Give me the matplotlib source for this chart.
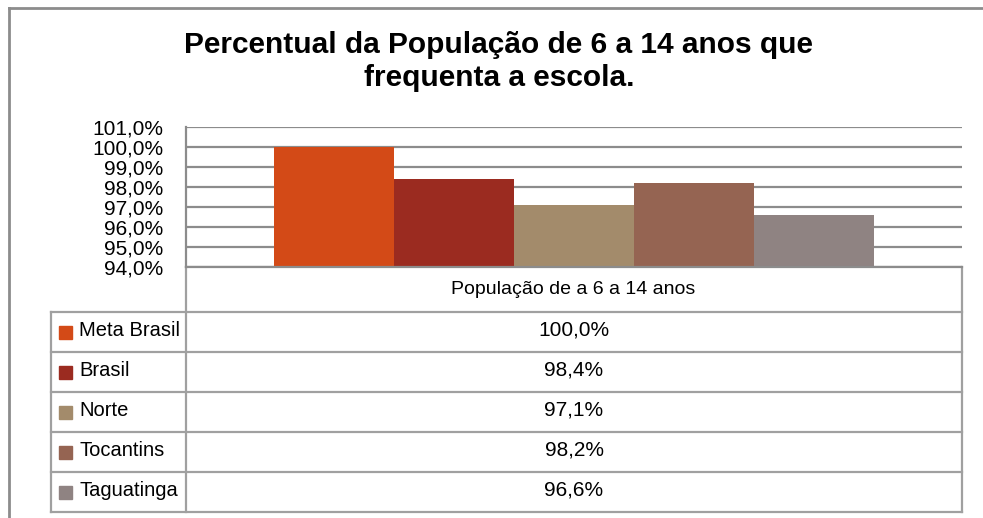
import matplotlib.pyplot as plt
from matplotlib.lines import Line2D
from matplotlib.patches import Rectangle

# data
series = ['Meta Brasil', 'Brasil', 'Norte', 'Tocantins', 'Taguatinga']
values = [100.0, 98.4, 97.1, 98.2, 96.6]
colors = ['#D34A17', '#9B2B20', '#A38B6B', '#956452', '#8F8382']
category = 'População de a 6 a 14 anos'
yticks = [94, 95, 96, 97, 98, 99, 100, 101]

W, H = 983, 518
fig = plt.figure(figsize=(W / 100, H / 100), dpi=100)
plt.rcParams['font.family'] = ['Liberation Sans', 'DejaVu Sans']

def fx(px):
    return px / W

def fy(py):
    return 1 - py / H

grid_col = '#8C8C8C'
line_col = '#A0A0A0'

# plot area in pixel coordinates of the reference
left, right, top, bottom = 186, 962, 127, 267
ax = fig.add_axes([fx(left), fy(bottom), fx(right - left), fy(top) - fy(bottom)])

bw = 600 / (right - left) / len(series)
for i, (v, c) in enumerate(zip(series, colors)):
    ax.bar((i - (len(series) - 1) / 2) * bw, values[i] - 94, bottom=94, width=bw,
           color=c, zorder=3)
ax.set_xlim(-0.5, 0.5)
ax.set_ylim(94, 101)
ax.set_yticks(yticks)
ax.set_yticklabels([f'{t:.1f}%'.replace('.', ',') for t in yticks], fontsize=15)
ax.tick_params(axis='y', length=0, pad=16.5)
ax.set_xticks([])
ax.yaxis.grid(True, color=grid_col, linewidth=1.6, zorder=0)
for s in ['top', 'right', 'bottom']:
    ax.spines[s].set_visible(False)
ax.spines['left'].set_color(grid_col)
ax.spines['left'].set_linewidth(1.6)

# overlay for frame, table and title (pixel coordinates)
ov = fig.add_axes([0, 0, 1, 1], zorder=5)
ov.set_xlim(0, W)
ov.set_ylim(H, 0)
ov.axis('off')
ov.patch.set_alpha(0)

def seg(x0, y0, x1, y1, c=line_col, lw=1.6):
    ov.add_line(Line2D([x0, x1], [y0, y1], color=c, linewidth=lw))

# outer frame
seg(9, 8, W, 8, c='#8C8C8C', lw=2)
seg(9, 8, 9, H, c='#8C8C8C', lw=2)

# table
row_top = 312
row_h = 40
tab_bottom = row_top + row_h * len(series)
seg(left, bottom, left, tab_bottom)
seg(right, bottom, right, tab_bottom)
seg(left, bottom, right, bottom, c=grid_col)
seg(51, row_top, 51, tab_bottom)
for k in range(len(series) + 1):
    seg(51, row_top + k * row_h, right, row_top + k * row_h)

ov.text((left + right) / 2 - 1, (bottom + row_top) / 2, category,
        ha='center', va='center', fontsize=14)
for k, (name, v, c) in enumerate(zip(series, values, colors)):
    yc = row_top + k * row_h + row_h / 2
    ov.add_patch(Rectangle((59, yc - 6), 13, 13, color=c))
    ov.text(79, yc - 2, name, ha='left', va='center', fontsize=14.5)
    ov.text((left + right) / 2, yc - 2, f'{v:.1f}%'.replace('.', ','),
            ha='center', va='center', fontsize=15)

ov.text(499, 45, 'Percentual da População de 6 a 14 anos que', ha='center',
        va='center', fontsize=21.5, fontweight='bold')
ov.text(499, 78, 'frequenta a escola.', ha='center', va='center',
        fontsize=21.5, fontweight='bold')

fig.savefig('out.png', dpi=100)
